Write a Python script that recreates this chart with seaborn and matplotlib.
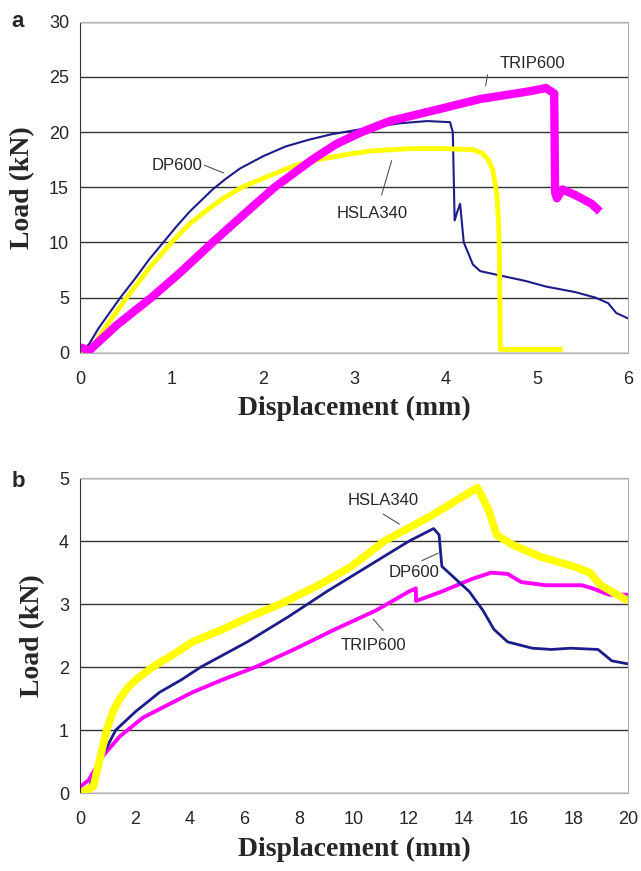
import matplotlib
matplotlib.use("Agg")
import matplotlib.pyplot as plt
import seaborn as sns

# ---- panel a: load vs displacement (0-6 mm) ----
dp600_a_x = [0.0, 0.1, 0.2, 0.44, 0.6, 0.75, 0.91, 1.05, 1.2, 1.45, 1.6, 1.75, 2.0, 2.25, 2.5, 2.75, 3.03, 3.25, 3.5, 3.8, 4.05, 4.08, 4.1, 4.13, 4.16, 4.2, 4.3, 4.38, 4.6, 4.88, 5.1, 5.42, 5.64, 5.78, 5.87, 5.95, 6.0]
dp600_a_y = [0.0, 0.8, 2.2, 5.0, 6.7, 8.4, 10.0, 11.4, 12.8, 14.8, 15.8, 16.7, 17.8, 18.7, 19.3, 19.8, 20.2, 20.5, 20.8, 21.0, 20.9, 20.0, 12.0, 12.8, 13.5, 10.0, 8.0, 7.4, 7.0, 6.5, 6.0, 5.5, 5.0, 4.5, 3.6, 3.3, 3.1]

hsla340_a_x = [0.0, 0.12, 0.3, 0.51, 0.75, 1.0, 1.2, 1.4, 1.55, 1.77, 2.0, 2.36, 2.6, 2.94, 3.2, 3.6, 4.0, 4.3, 4.4, 4.47, 4.52, 4.56, 4.58, 4.59, 4.6, 5.28]
hsla340_a_y = [0.0, 0.3, 2.6, 5.0, 7.6, 10.0, 11.7, 13.0, 13.9, 15.0, 15.8, 17.0, 17.5, 18.0, 18.3, 18.5, 18.5, 18.4, 18.1, 17.5, 16.5, 14.5, 12.0, 9.5, 0.3, 0.3]

trip600_a_x = [0.0, 0.1, 0.4, 0.78, 1.1, 1.45, 1.8, 2.13, 2.54, 2.8, 3.08, 3.39, 3.89, 4.38, 4.92, 5.1, 5.19, 5.2, 5.22, 5.28, 5.42, 5.6, 5.69]
trip600_a_y = [0.5, 0.2, 2.5, 5.0, 7.3, 10.0, 12.6, 15.0, 17.5, 18.9, 20.0, 21.0, 22.0, 23.0, 23.7, 24.0, 23.5, 14.5, 14.0, 14.8, 14.3, 13.5, 12.8]

# ---- panel b: load vs displacement (0-20 mm) ----
dp600_b_x = [0.0, 0.25, 0.7, 1.3, 2.04, 2.9, 3.7, 4.4, 6.1, 7.6, 9.0, 10.5, 12.0, 12.9, 13.1, 13.2, 13.7, 14.2, 14.7, 15.1, 15.6, 16.5, 17.2, 17.9, 18.9, 19.4, 20.0]
dp600_b_y = [0.0, 0.0, 0.5, 1.0, 1.3, 1.6, 1.8, 2.0, 2.4, 2.8, 3.2, 3.6, 4.0, 4.2, 4.1, 3.6, 3.4, 3.2, 2.9, 2.6, 2.4, 2.3, 2.28, 2.3, 2.28, 2.1, 2.05]

hsla340_b_x = [0.0, 0.48, 0.97, 1.2, 1.45, 1.75, 2.04, 2.64, 3.4, 4.1, 5.2, 6.2, 7.3, 8.7, 9.9, 11.1, 12.8, 14.5, 14.9, 15.2, 15.75, 16.8, 18.0, 18.6, 19.0, 19.6, 20.0]
hsla340_b_y = [0.0, 0.1, 1.0, 1.3, 1.5, 1.68, 1.8, 2.0, 2.2, 2.4, 2.6, 2.8, 3.0, 3.3, 3.6, 4.0, 4.4, 4.85, 4.5, 4.1, 3.95, 3.75, 3.6, 3.5, 3.3, 3.15, 3.05]

trip600_b_x = [0.0, 0.3, 0.85, 1.45, 2.3, 3.2, 4.1, 5.2, 6.4, 7.9, 9.3, 10.8, 12.0, 12.25, 12.26, 13.2, 14.3, 15.0, 15.6, 16.1, 17.0, 18.3, 18.7, 19.3, 20.0]
trip600_b_y = [0.1, 0.2, 0.6, 0.9, 1.2, 1.4, 1.6, 1.8, 2.0, 2.3, 2.6, 2.9, 3.2, 3.25, 3.05, 3.2, 3.4, 3.5, 3.48, 3.35, 3.3, 3.3, 3.25, 3.15, 3.15]

NAVY = "#1c1c8a"
YELLOW = "#ffff00"
MAGENTA = "#ff00ff"

sns.set_style("white")
plt.rcParams["font.family"] = ["Liberation Sans", "DejaVu Sans"]

fig = plt.figure(figsize=(6.41, 8.71), dpi=100)
ax_a = fig.add_axes([0.125, 0.595, 0.855, 0.38])
ax_b = fig.add_axes([0.125, 0.0895, 0.855, 0.3615])


def draw(ax, x, y, color, lw):
    sns.lineplot(x=x, y=y, ax=ax, color=color, lw=lw, sort=False, estimator=None,
                 solid_joinstyle="round", solid_capstyle="butt")


def style(ax, xmax, ymax, ystep, xstep):
    ax.set_xlim(0, xmax)
    ax.set_ylim(0, ymax)
    ax.set_xticks(range(0, xmax + 1, xstep))
    ax.set_yticks(range(0, ymax + 1, ystep))
    ax.yaxis.grid(True, color="#333333", lw=1.0)
    ax.set_axisbelow(True)
    for side in ["top", "right", "bottom"]:
        ax.spines[side].set_color("#b0b0b0")
    ax.spines["left"].set_color("#333333")
    ax.tick_params(axis="both", labelsize=13, length=3, color="#888888", direction="out")
    ax.tick_params(axis="x", pad=10)
    ax.tick_params(axis="y", length=0, pad=8)
    ax.set_xlabel("Displacement (mm)", family="Liberation Serif", fontweight="bold",
                  fontsize=20, labelpad=6)
    ax.set_ylabel("Load (kN)", family="Liberation Serif", fontweight="bold",
                  fontsize=20, labelpad=10)


# panel a
draw(ax_a, dp600_a_x, dp600_a_y, NAVY, 1.5)
draw(ax_a, hsla340_a_x, hsla340_a_y, YELLOW, 3.5)
draw(ax_a, trip600_a_x, trip600_a_y, MAGENTA, 6)
style(ax_a, 6, 30, 5, 1)
ax_a.text(4.95, 26.2, "TRIP600", fontsize=12, ha="center", va="center")
ax_a.plot([4.46, 4.44], [25.2, 24.2], color="#555555", lw=0.8)
ax_a.text(1.06, 17.0, "DP600", fontsize=12, ha="center", va="center")
ax_a.plot([1.36, 1.57], [17.0, 16.3], color="#555555", lw=0.8)
ax_a.text(3.2, 12.6, "HSLA340", fontsize=12, ha="center", va="center")
ax_a.plot([3.3, 3.41], [14.3, 17.4], color="#555555", lw=0.8)

# panel b
draw(ax_b, trip600_b_x, trip600_b_y, MAGENTA, 2.8)
draw(ax_b, dp600_b_x, dp600_b_y, NAVY, 2.0)
draw(ax_b, hsla340_b_x, hsla340_b_y, YELLOW, 5.5)
style(ax_b, 20, 5, 1, 2)
ax_b.text(11.05, 4.64, "HSLA340", fontsize=12, ha="center", va="center")
ax_b.plot([11.06, 11.65], [4.43, 4.27], color="#555555", lw=0.8)
ax_b.text(12.2, 3.5, "DP600", fontsize=12, ha="center", va="center")
ax_b.plot([12.47, 13.07], [3.69, 3.81], color="#555555", lw=0.8)
ax_b.text(10.7, 2.35, "TRIP600", fontsize=12, ha="center", va="center")
ax_b.plot([11.06, 10.7], [2.58, 2.76], color="#555555", lw=0.8)

fig.text(0.018, 0.975, "a", fontsize=16, fontweight="bold", va="center")
fig.text(0.018, 0.447, "b", fontsize=16, fontweight="bold", va="center")

fig.savefig("out.png", dpi=100)
